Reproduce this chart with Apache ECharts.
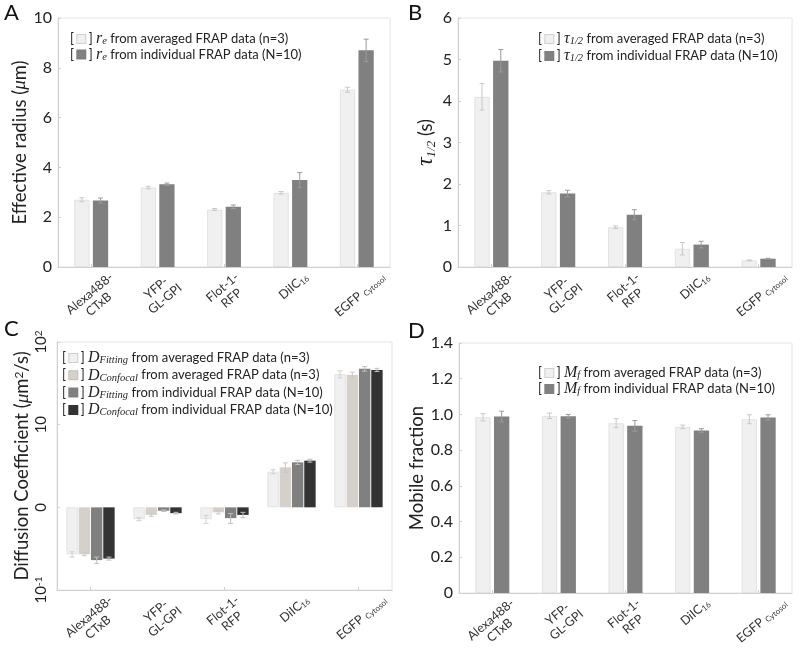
<!DOCTYPE html>
<html><head><meta charset="utf-8">
<script src="https://cdn.jsdelivr.net/npm/echarts@6/dist/echarts.min.js"></script>
<style>html,body{margin:0;padding:0;background:#fff}#c{width:800px;height:651px}</style>
</head><body><div id="c"></div>
<script>
// ---------- data ----------
const categories = ['Alexa488-CTxB', 'YFP-GL-GPI', 'Flot-1-RFP', 'DiIC16', 'EGFP Cytosol'];
const xTickLabels = ['Alexa488-\nCTxB', 'YFP-\nGL-GPI', 'Flot-1-\nRFP', 'DiIC{sub|16}', 'EGFP {sub|Cytosol}'];

const radiusAvg    = [2.70, 3.19, 2.31, 2.98, 7.12];
const radiusAvgErr = [0.08, 0.05, 0.04, 0.05, 0.10];
const radiusInd    = [2.67, 3.32, 2.42, 3.49, 8.70];
const radiusIndErr = [0.10, 0.05, 0.07, 0.30, 0.45];

const tauAvg    = [4.10, 1.80, 0.96, 0.44, 0.16];
const tauAvgErr = [0.32, 0.04, 0.03, 0.15, 0.01];
const tauInd    = [4.97, 1.77, 1.26, 0.54, 0.20];
const tauIndErr = [0.27, 0.08, 0.12, 0.08, 0.01];

const dFitAvg     = [0.27, 0.72, 0.72, 2.70, 40.8];
const dFitAvgErr  = [0.02, 0.03, 0.08, 0.15, 4.0];
const dConfAvg    = [0.27, 0.81, 0.87, 3.05, 40.1];
const dConfAvgErr = [0.01, 0.03, 0.04, 0.40, 3.0];
const dFitInd     = [0.23, 0.91, 0.74, 3.50, 47.4];
const dFitIndErr  = [0.02, 0.02, 0.10, 0.20, 3.0];
const dConfInd    = [0.24, 0.85, 0.81, 3.67, 46.0];
const dConfIndErr = [0.01, 0.02, 0.06, 0.15, 2.0];

const mfAvg    = [0.984, 0.992, 0.951, 0.930, 0.973];
const mfAvgErr = [0.020, 0.015, 0.025, 0.010, 0.025];
const mfInd    = [0.988, 0.990, 0.936, 0.910, 0.983];
const mfIndErr = [0.030, 0.010, 0.030, 0.010, 0.015];

const yTicksA = [0, 2, 4, 6, 8, 10];
const yTicksB = [0, 1, 2, 3, 4, 5, 6];
const yTicksC = {0.1: '10{sup|-1}', 1: '0', 10: '10', 100: '10{sup|2}'};
const yTicksD = ['0', '0.2', '0.4', '0.6', '0.8', '1.0', '1.2', '1.4'];

const legendA = ['{m|r}{ms|e} from averaged FRAP data (n=3)', '{m|r}{ms|e} from individual FRAP data (N=10)'];
const legendB = ['{m|τ}{ms|1/2} from averaged FRAP data (n=3)', '{m|τ}{ms|1/2} from individual FRAP data (N=10)'];
const legendC = ['{m|D}{ms|Fitting} from averaged FRAP data (n=3)', '{m|D}{ms|Confocal} from averaged FRAP data (n=3)',
                 '{m|D}{ms|Fitting} from individual FRAP data (N=10)', '{m|D}{ms|Confocal} from individual FRAP data (N=10)'];
const legendD = ['{m|M}{ms|f} from averaged FRAP data (n=3)', '{m|M}{ms|f} from individual FRAP data (N=10)'];

// ---------- style ----------
const FONT = 'Lato';
const MATH = 'Liberation Serif';
const C_LIGHT = '#f0f0f0', C_BEIGE = '#d5d1ca', C_GRAY = '#808080', C_DARK = '#333333';
const AXIS_COL = '#d0d0d0';
const LABEL_ROT = 40 * Math.PI / 180;
const XL_SIZE = 12.5, XL_SUB = 8, XL_LH = 14;

const grids = [
  {left: 58, top: 18, width: 332, height: 249},
  {left: 458, top: 18, width: 334, height: 249},
  {left: 57, top: 342, width: 335, height: 248},
  {left: 459, top: 343, width: 333, height: 250}
];

const xRich = {sub: {fontSize: XL_SUB, fontFamily: FONT, fill: '#333', color: '#333', verticalAlign: 'bottom', lineHeight: 10}};

// text width measurement for rotated label bounding boxes
const mctx = document.createElement('canvas').getContext('2d');
function lineWidth(line) {
  let w = 0;
  const re = /\{sub\|([^}]*)\}|([^{]+)/g;
  let m;
  while ((m = re.exec(line)) !== null) {
    if (m[1] !== undefined) { mctx.font = XL_SUB + 'px ' + FONT; w += mctx.measureText(m[1]).width; }
    else { mctx.font = XL_SIZE + 'px ' + FONT; w += mctx.measureText(m[2]).width; }
  }
  return w;
}

function xAxis(gi) {
  return {
    type: 'category', gridIndex: gi, data: categories,
    axisLine: {lineStyle: {color: AXIS_COL}},
    axisTick: {show: true, inside: true, alignWithLabel: true, length: 3, lineStyle: {color: AXIS_COL}},
    axisLabel: {show: false}
  };
}

// category tick labels, placed through the category axis scale
function xLabelSeries(gi, yBase) {
  return {
    type: 'custom', xAxisIndex: gi, yAxisIndex: gi, silent: true, clip: false, z: 10,
    data: categories.map((c, i) => [i, yBase]),
    renderItem: function (params, api) {
      const p = api.coord([api.value(0), api.value(1)]);
      const txt = xTickLabels[params.dataIndex];
      const lines = txt.split('\n');
      const w = Math.max.apply(null, lines.map(lineWidth));
      const h = lines.length * XL_LH;
      const bh = w * Math.sin(LABEL_ROT) + h * Math.cos(LABEL_ROT);
      return {
        type: 'text', x: p[0] + 3, y: p[1] + 3 + bh / 2, rotation: LABEL_ROT,
        style: {
          text: txt, align: 'center', verticalAlign: 'middle',
          fontFamily: FONT, fontSize: XL_SIZE, lineHeight: XL_LH, fill: '#333', rich: xRich
        }
      };
    }
  };
}

const nameRich = {
  it: {fontFamily: MATH, fontStyle: 'italic', fontSize: 19, color: '#222'},
  tau: {fontFamily: MATH, fontStyle: 'italic', fontSize: 24, color: '#222'},
  sub: {fontFamily: MATH, fontStyle: 'italic', fontSize: 13, color: '#222', verticalAlign: 'bottom', lineHeight: 13},
  sup: {fontFamily: FONT, fontSize: 12, color: '#222', verticalAlign: 'top', lineHeight: 12}
};

function yAxisLin(gi, min, max, interval, name, gap, fmt) {
  return {
    type: 'value', gridIndex: gi, min: min, max: max, interval: interval,
    name: name, nameLocation: 'middle', nameGap: gap, nameRotate: 90,
    nameTextStyle: {fontFamily: FONT, fontSize: 18.5, color: '#222', rich: nameRich},
    axisLine: {show: true, lineStyle: {color: AXIS_COL}},
    axisTick: {show: true, inside: true, length: 3, lineStyle: {color: AXIS_COL}},
    splitLine: {show: false},
    axisLabel: {fontFamily: FONT, fontSize: 16, color: '#222', margin: 6, formatter: fmt}
  };
}

const barBase = {type: 'bar', barWidth: '23%', barGap: '22%'};
const barBaseC = {type: 'bar', barWidth: '17%', barGap: '8%'};

function bars(gi, data, color, base, border) {
  return Object.assign({}, base, {
    xAxisIndex: gi, yAxisIndex: gi, data: data, silent: true,
    itemStyle: {color: color, borderColor: border || color, borderWidth: border ? 1 : 0}
  });
}

function errSeries(gi, vals, errs, idx, n, widthPct, gapPct, col) {
  const data = vals.map((v, i) => [i, v - errs[i], v + errs[i]]);
  return {
    type: 'custom', xAxisIndex: gi, yAxisIndex: gi, silent: true, z: 5,
    data: data,
    renderItem: function (params, api) {
      const x = api.value(0);
      const lo = api.coord([x, api.value(1)]);
      const hi = api.coord([x, api.value(2)]);
      const band = api.coord([1, api.value(2)])[0] - api.coord([0, api.value(2)])[0];
      const bw = band * widthPct;
      const gap = bw * gapPct;
      const total = n * bw + (n - 1) * gap;
      const cx = lo[0] - total / 2 + idx * (bw + gap) + bw / 2;
      const cap = 2.5;
      const st = {stroke: col, lineWidth: 1};
      return {type: 'group', children: [
        {type: 'line', shape: {x1: cx, y1: lo[1], x2: cx, y2: hi[1]}, style: st},
        {type: 'line', shape: {x1: cx - cap, y1: lo[1], x2: cx + cap, y2: lo[1]}, style: st},
        {type: 'line', shape: {x1: cx - cap, y1: hi[1], x2: cx + cap, y2: hi[1]}, style: st}
      ]};
    }
  };
}

const legRich = {
  b0: {width: 8, height: 8, backgroundColor: C_LIGHT, borderColor: '#cfcfcf', borderWidth: 1},
  b1: {width: 8, height: 8, backgroundColor: C_BEIGE, borderColor: '#c4c0b8', borderWidth: 1},
  b2: {width: 8, height: 8, backgroundColor: C_GRAY, borderColor: C_GRAY, borderWidth: 1},
  b3: {width: 8, height: 8, backgroundColor: C_DARK, borderColor: C_DARK, borderWidth: 1},
  m: {fontFamily: MATH, fontStyle: 'italic', fontSize: 16, color: '#222', lineHeight: 16},
  ms: {fontFamily: MATH, fontStyle: 'italic', fontSize: 10.5, color: '#222', verticalAlign: 'bottom', lineHeight: 10}
};

function legendGraphic(lines, boxes, x, y, dy) {
  return lines.map((t, i) => ({
    type: 'text', left: x, top: y + i * dy, silent: true,
    style: {
      text: '[ {' + boxes[i] + '| } ] ' + t,
      fontFamily: FONT, fontSize: 13, fill: '#222', lineHeight: 16, rich: legRich
    }
  }));
}

function panelLetter(t, x, y) {
  return {type: 'text', left: x, top: y, style: {text: t, fontFamily: FONT, fontSize: 22, fill: '#111'}};
}

const option = {
  animation: false,
  backgroundColor: '#fff',
  grid: grids.map(g => Object.assign({show: true, borderColor: '#e4e4e4', borderWidth: 1, containLabel: false}, g)),
  xAxis: [xAxis(0), xAxis(1), xAxis(2), xAxis(3)],
  yAxis: [
    yAxisLin(0, 0, 10, 2, 'Effective radius ({it|μ}m)', 27, v => String(v)),
    yAxisLin(1, 0, 6, 1, '{tau|τ}{sub|1/2} (s)', 20, v => String(v)),
    {
      type: 'log', gridIndex: 2, logBase: 10, min: 0.1, max: 100,
      name: 'Diffusion Coefficient ({it|μ}m{sup|2}/s)', nameLocation: 'middle', nameGap: 25, nameRotate: 90,
      nameTextStyle: {fontFamily: FONT, fontSize: 18.5, color: '#222', rich: nameRich},
      axisLine: {show: true, lineStyle: {color: AXIS_COL}},
      axisTick: {show: true, inside: true, length: 3, lineStyle: {color: AXIS_COL}},
      splitLine: {show: false},
      axisLabel: {
        rotate: 90, fontFamily: FONT, fontSize: 15, color: '#222', margin: 8,
        formatter: v => {
          const k = Object.keys(yTicksC).find(key => Math.abs(Number(key) - v) < 1e-9 * Math.max(1, v));
          return k !== undefined ? yTicksC[k] : '';
        },
        rich: {sup: {fontFamily: FONT, fontSize: 10, color: '#222', verticalAlign: 'top', lineHeight: 10}}
      }
    },
    yAxisLin(3, 0, 1.4, 0.2, 'Mobile fraction', 29, (v) => yTicksD[Math.round(v / 0.2)])
  ],
  series: [
    bars(0, radiusAvg, C_LIGHT, barBase, '#e2e2e2'),
    bars(0, radiusInd, C_GRAY, barBase),
    errSeries(0, radiusAvg, radiusAvgErr, 0, 2, 0.23, 0.22, '#c8c8c8'),
    errSeries(0, radiusInd, radiusIndErr, 1, 2, 0.23, 0.22, '#9a9a9a'),
    xLabelSeries(0, 0),

    bars(1, tauAvg, C_LIGHT, barBase, '#e2e2e2'),
    bars(1, tauInd, C_GRAY, barBase),
    errSeries(1, tauAvg, tauAvgErr, 0, 2, 0.23, 0.22, '#c8c8c8'),
    errSeries(1, tauInd, tauIndErr, 1, 2, 0.23, 0.22, '#9a9a9a'),
    xLabelSeries(1, 0),

    bars(2, dFitAvg, C_LIGHT, barBaseC, '#e2e2e2'),
    bars(2, dConfAvg, C_BEIGE, barBaseC),
    bars(2, dFitInd, C_GRAY, barBaseC),
    bars(2, dConfInd, C_DARK, barBaseC),
    errSeries(2, dFitAvg, dFitAvgErr, 0, 4, 0.17, 0.08, '#d0d0d0'),
    errSeries(2, dConfAvg, dConfAvgErr, 1, 4, 0.17, 0.08, '#c8c8c8'),
    errSeries(2, dFitInd, dFitIndErr, 2, 4, 0.17, 0.08, '#c0c0c0'),
    errSeries(2, dConfInd, dConfIndErr, 3, 4, 0.17, 0.08, '#c0c0c0'),
    xLabelSeries(2, 0.1),

    bars(3, mfAvg, C_LIGHT, barBase, '#e2e2e2'),
    bars(3, mfInd, C_GRAY, barBase),
    errSeries(3, mfAvg, mfAvgErr, 0, 2, 0.23, 0.22, '#c8c8c8'),
    errSeries(3, mfInd, mfIndErr, 1, 2, 0.23, 0.22, '#9a9a9a'),
    xLabelSeries(3, 0)
  ],
  graphic: [].concat(
    [panelLetter('A', 4, 2), panelLetter('B', 408, 2), panelLetter('C', 4, 318), panelLetter('D', 408, 320)],
    legendGraphic(legendA, ['b0', 'b2'], 70, 31, 15.5),
    legendGraphic(legendB, ['b0', 'b2'], 538, 31, 17),
    legendGraphic(legendC, ['b0', 'b1', 'b2', 'b3'], 62, 350, 17.3),
    legendGraphic(legendD, ['b0', 'b2'], 538, 365, 16)
  )
};

const chart = echarts.init(document.getElementById('c'), null, {renderer: 'canvas'});
chart.setOption(option);
</script>
</body></html>
